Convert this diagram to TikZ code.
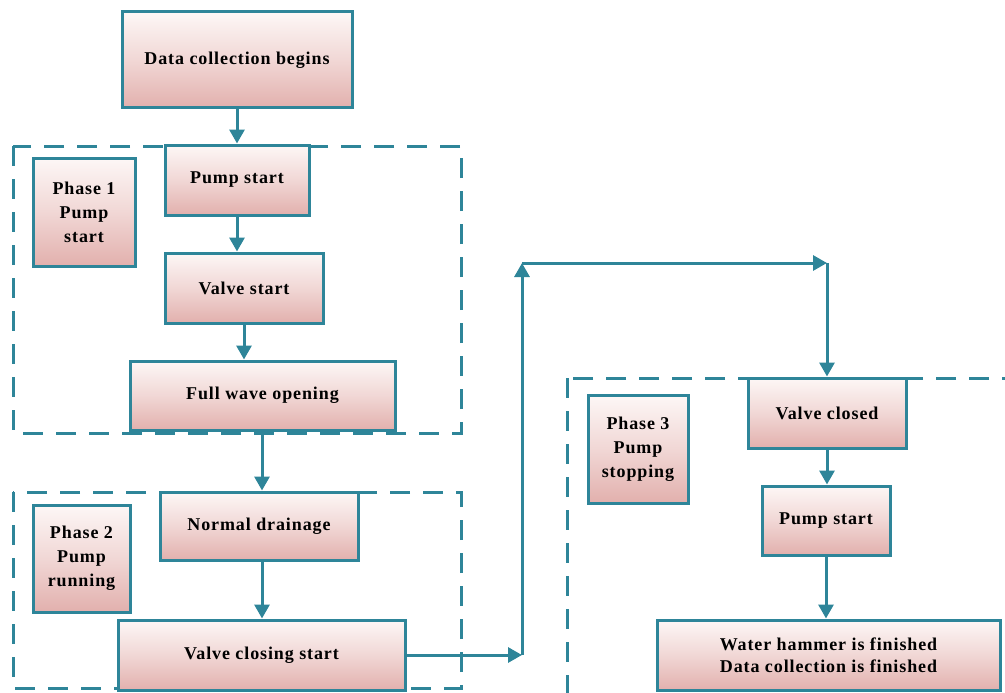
\documentclass[tikz,border=0pt]{standalone}
\usepackage{fontspec}
\setmainfont{Liberation Serif}[LetterSpace=5]
\usetikzlibrary{arrows.meta,calc}
\definecolor{teal1}{RGB}{46,133,153}
\definecolor{pinktop}{RGB}{253,247,246}
\definecolor{pinkbot}{RGB}{226,176,173}
\tikzset{
  box/.style={draw=teal1, line width=3pt, top color=pinktop, bottom color=pinkbot, middle color=pinktop!55!pinkbot,
    align=center, font=\bfseries\fontsize{18}{24}\selectfont, inner sep=2pt},
  group/.style={draw=teal1, line width=3pt, dash pattern=on 20pt off 13pt},
  arr/.style={draw=teal1, line width=3pt, -{Triangle[length=14pt,width=15pt]}},
  lin/.style={draw=teal1, line width=3pt}
}
\begin{document}
\begin{tikzpicture}[x=1pt,y=-1pt]
\useasboundingbox (0,0) rectangle (1005,693);
\begin{scope}
\clip (0,0) rectangle (1005,693);
% dashed group boxes
\draw[group] (13,146) rectangle (461,433);
\draw[group] (13,492) rectangle (461,688);
\draw[group] (567,378) rectangle (1030,720);
\end{scope}
% nodes
\node[box, minimum width=230pt, minimum height=96pt] (dcb) at (237,60) {Data collection begins};
\node[box, minimum width=144pt, minimum height=70pt] (ps1) at (237,180) {Pump start};
\node[box, minimum width=158pt, minimum height=70pt] (vs) at (244,288) {Valve start};
\node[box, minimum width=265pt, minimum height=69pt] (fwo) at (262.5,395.5) {Full wave opening};
\node[box, minimum width=102pt, minimum height=108pt] (ph1) at (84,212) {Phase 1\\Pump\\start};
\node[box, minimum width=198pt, minimum height=68pt] (nd) at (259,526) {Normal drainage};
\node[box, minimum width=287pt, minimum height=70pt] (vcs) at (261.5,655) {Valve closing start};
\node[box, minimum width=97pt, minimum height=107pt] (ph2) at (81.5,558.5) {Phase 2\\Pump\\running};
\node[box, minimum width=158pt, minimum height=70pt] (vc) at (827,413) {Valve closed};
\node[box, minimum width=100pt, minimum height=108pt] (ph3) at (638,449) {Phase 3\\Pump\\stopping};
\node[box, minimum width=128pt, minimum height=69pt] (ps2) at (826,520.5) {Pump start};
\node[box, minimum width=343pt, minimum height=70pt, font=\bfseries\fontsize{18}{22}\selectfont] (wh) at (828.5,655) {Water hammer is finished\\Data collection is finished};
% connectors
\draw[arr] (dcb.south) -- (ps1.north);
\draw[arr] (ps1.south) -- (ps1.south |- vs.north);
\draw[arr] (vs.south) -- (vs.south |- fwo.north);
\draw[arr] (fwo.south -| 262,0) -- (nd.north -| 262,0);
\draw[arr] (nd.south -| 262,0) -- (vcs.north -| 262,0);
\coordinate (c1) at (522,655);
\coordinate (c2) at (522,263);
\coordinate (c3) at (vc.north |- c2);
\draw[arr] (vcs.east) -- (c1);
\draw[arr] (c1) -- (c2);
\draw[arr] (c2) -- (c3);
\draw[arr] (c3) -- (vc.north);
\draw[arr] (vc.south) -- (vc.south |- ps2.north);
\draw[arr] (ps2.south) -- (ps2.south |- wh.north);
\end{tikzpicture}
\end{document}
